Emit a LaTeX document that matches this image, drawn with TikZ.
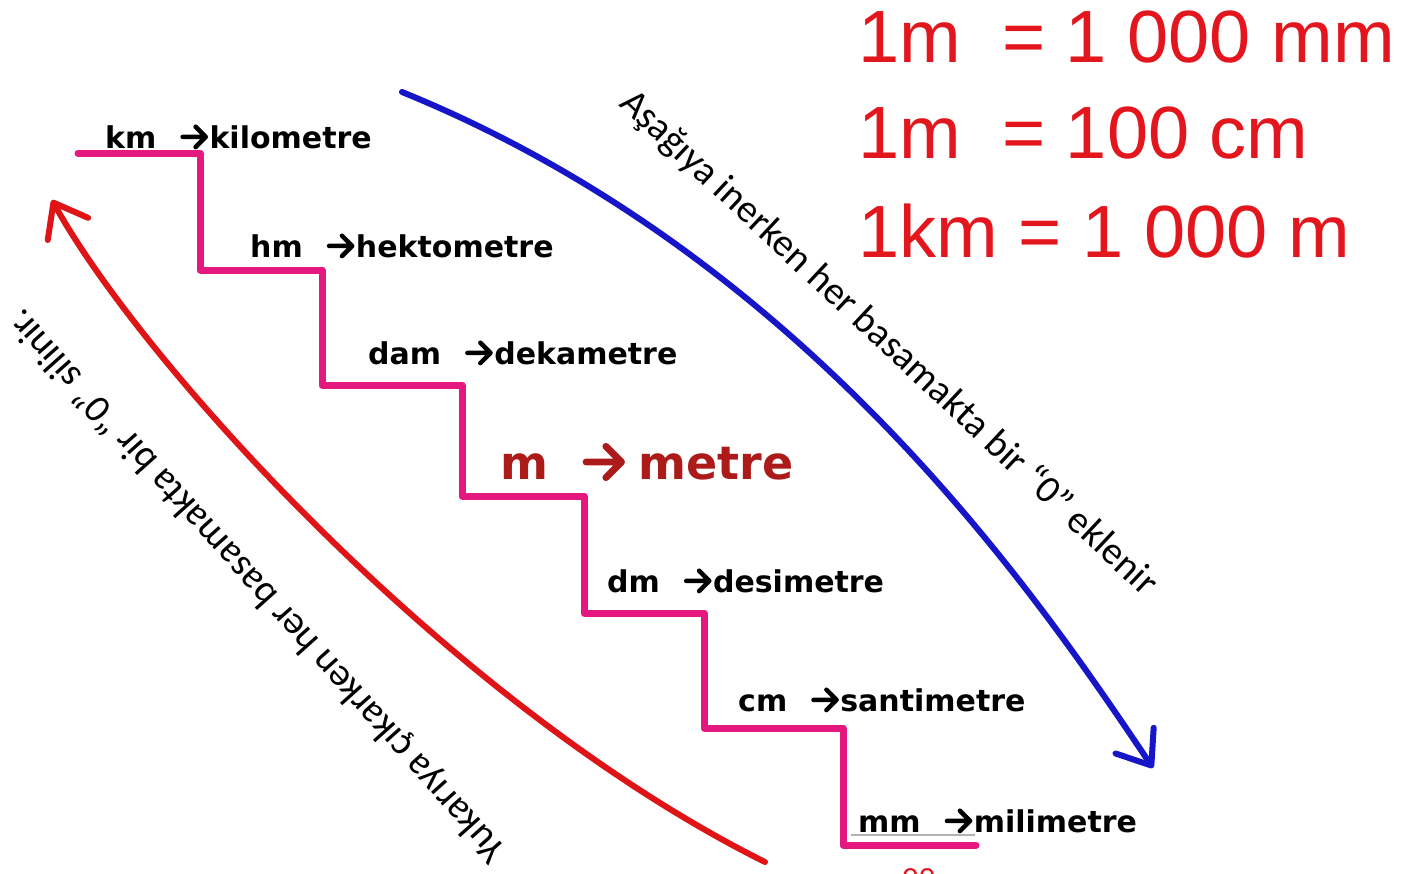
\documentclass[tikz,border=0pt]{standalone}
\usepackage{fontspec}
\setmainfont{DejaVu Sans}
\newfontfamily\eqfont{Liberation Sans}
\newfontfamily\diagfont{Carlito}
\usetikzlibrary{arrows.meta}
\definecolor{stair}{RGB}{228,24,126}
\definecolor{uparrow}{RGB}{222,20,22}
\definecolor{downarrow}{RGB}{22,22,200}
\definecolor{eqred}{RGB}{226,22,28}
\definecolor{metrered}{RGB}{172,26,26}
% bold chevron arrow used inside the unit labels
\newcommand\chev[1][black]{\tikz[baseline=0pt,x=1em,y=1em,line width=0.15em,line cap=round,line join=round]{\draw[draw=#1] (0.07,0.37)--(0.83,0.37) (0.5,0.71)--(0.84,0.37)--(0.5,0.03);}}
\newcommand\lblarr{\hspace{0.8em}\chev\hspace{0.05em}}
\begin{document}
\begin{tikzpicture}[x=1pt,y=-1pt,
  stairline/.style={draw=stair,line width=7pt,line cap=round,line join=round},
  unitlbl/.style={anchor=base west,inner sep=0pt,font=\bfseries\fontsize{30}{30}\selectfont},
  bigunit/.style={anchor=base west,inner sep=0pt,text=metrered,font=\bfseries\fontsize{46}{46}\selectfont},
  eqlbl/.style={anchor=base west,inner sep=0pt,text=eqred,font=\eqfont\fontsize{74}{74}\selectfont},
  diaglbl/.style={anchor=base west,inner sep=0pt,font=\diagfont\fontsize{39}{39}\selectfont},
  curvearrow/.style={line width=6pt,line cap=round,-{Straight Barb[length=30pt,width=46pt,round]}}
]
\clip (0,0) rectangle (1412,873);
\fill[white] (0,0) rectangle (1412,873);

% staircase
\coordinate (s0) at (78,153);
\coordinate (s1) at (200,153);
\coordinate (s2) at (200,270);
\coordinate (s3) at (322,270);
\coordinate (s4) at (322,385);
\coordinate (s5) at (462,385);
\coordinate (s6) at (462,496);
\coordinate (s7) at (584,496);
\coordinate (s8) at (584,613);
\coordinate (s9) at (704,613);
\coordinate (s10) at (704,728);
\coordinate (s11) at (843,728);
\coordinate (s12) at (843,845);
\coordinate (s13) at (976,845);
\draw[stairline] (s0) -- (s1) -- (s2) -- (s3) -- (s4) -- (s5) -- (s6) -- (s7)
  -- (s8) -- (s9) -- (s10) -- (s11) -- (s12) -- (s13);

% faint underline under mm
\coordinate (u0) at (851,835);
\coordinate (u1) at (975,835);
\draw[gray!60,line width=1.5pt] (u0) -- (u1);

% unit labels
\node[unitlbl] (km) at (105,148) {km\lblarr kilometre};
\node[unitlbl] (hm) at (250,257) {hm\lblarr hektometre};
\node[unitlbl] (dam) at (368,364) {dam\lblarr dekametre};
\node[bigunit] (m) at (500,479) {m\hspace{0.75em}\chev[metrered]\hspace{0.3em}metre};
\node[unitlbl] (dm) at (607,592) {dm\lblarr desimetre};
\node[unitlbl] (cm) at (738,711) {cm\lblarr santimetre};
\node[unitlbl] (mm) at (858,832) {mm\lblarr milimetre};

% equations
\node[eqlbl] (eq1) at (858,62) {1m\ \ = 1\ 000 mm};
\node[eqlbl] (eq2) at (858,158) {1m\ \ = 100 cm};
\node[eqlbl] (eq3) at (858,257) {1km = 1\ 000 m};

% partly hidden red digits at the bottom
\node[anchor=north west,inner sep=0pt,text=eqred,font=\eqfont\fontsize{30}{30}\selectfont] (zz) at (902,868) {00};

% curved arrows
\coordinate (rs) at (765,862);
\coordinate (re) at (52,200);
\draw[curvearrow,draw=uparrow] (rs) .. controls (450,705) and (140,360) .. (re);
\coordinate (bs) at (402,92);
\coordinate (be) at (1153,768);
\draw[curvearrow,draw=downarrow] (bs) .. controls (810,258) and (1040,600) .. (be);

% diagonal texts
\node[diaglbl,rotate=-43.1] (down) at (618,105) {Aşağıya inerken her basamakta bir “0” eklenir};
\node[diaglbl,rotate=131.8] (up) at (508,850) {Yukarıya çıkarken her basamakta bir “0” silinir.};
\end{tikzpicture}
\end{document}
